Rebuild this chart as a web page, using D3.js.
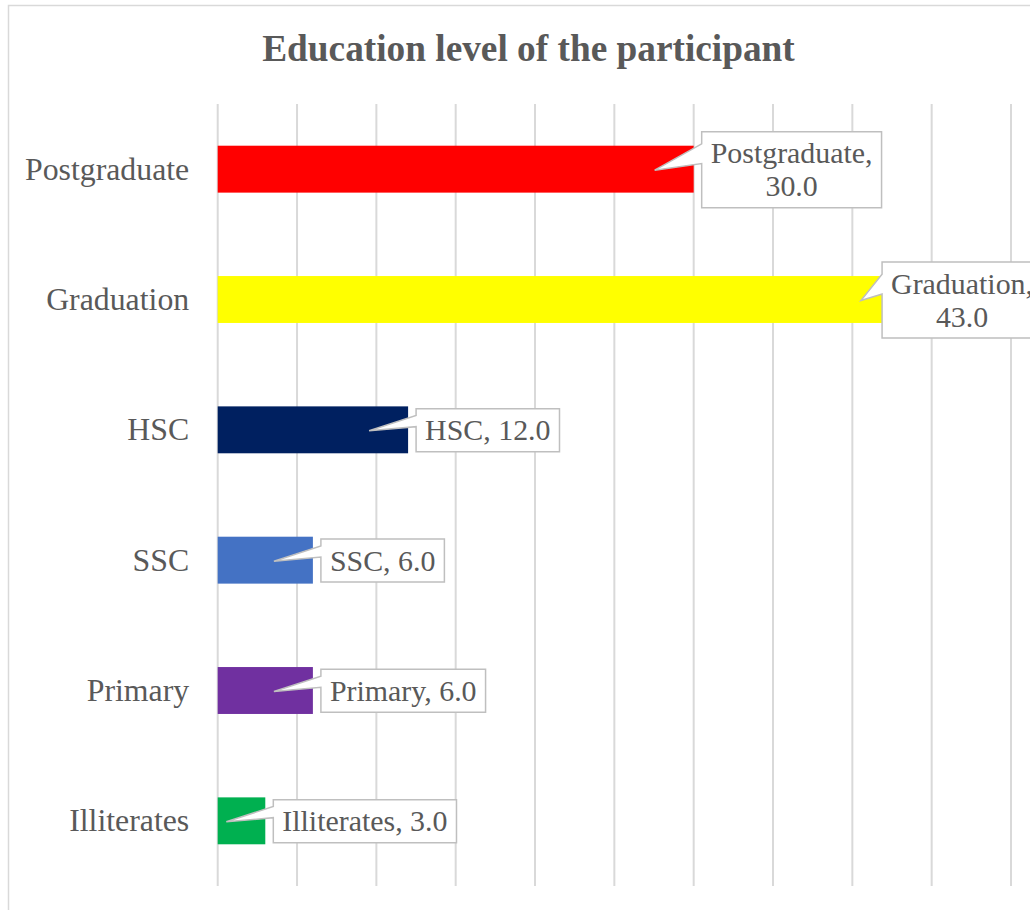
<!DOCTYPE html>
<html>
<head>
<meta charset="utf-8">
<script src="https://cdn.jsdelivr.net/npm/d3@7"></script>
<style>
  html, body { margin: 0; padding: 0; background: #fff; overflow: hidden; }
  svg { display: block; }
</style>
</head>
<body>
<svg id="chart" width="1030" height="910"></svg>
<script>
// Education level counts, top to bottom
const categories = ["Postgraduate", "Graduation", "HSC", "SSC", "Primary", "Illiterates"];
const values = [30.0, 43.0, 12.0, 6.0, 6.0, 3.0];
const barColors = ["#FF0000", "#FFFF00", "#002060", "#4472C4", "#7030A0", "#00B050"];
// label text split into lines for the callouts
const labelLines = [
  ["Postgraduate,", "30.0"],
  ["Graduation,", "43.0"],
  ["HSC, 12.0"],
  ["SSC, 6.0"],
  ["Primary, 6.0"],
  ["Illiterates, 3.0"]
];
const xTicks = [0, 5, 10, 15, 20, 25, 30, 35, 40, 45, 50];
const title = "Education level of the participant";

const W = 1030, H = 910;
const svg = d3.select("#chart");
const serif = "'Liberation Serif', 'Times New Roman', Times, serif";
const textColor = "#595959";

// chart frame
svg.append("rect")
  .attr("x", 8.5).attr("y", 5.5)
  .attr("width", 1040).attr("height", 920)
  .attr("fill", "#fff")
  .attr("stroke", "#d9d9d9").attr("stroke-width", 1.5);

// title
svg.append("text")
  .attr("x", 528.5).attr("y", 60.5)
  .attr("text-anchor", "middle")
  .attr("font-family", serif)
  .attr("font-weight", "bold")
  .attr("font-size", 37.3)
  .attr("fill", textColor)
  .text(title);

const plot = { left: 217.7, right: 1011, top: 104, bottom: 886 };

const x = d3.scaleLinear().domain([0, 50]).range([plot.left, plot.right]);
const y = d3.scaleBand().domain(categories)
  .range([plot.top, plot.bottom])
  .paddingInner(0.64).paddingOuter(0.32);

// vertical gridlines
svg.append("g").selectAll("line")
  .data(xTicks)
  .join("line")
  .attr("x1", d => x(d)).attr("x2", d => x(d))
  .attr("y1", plot.top).attr("y2", plot.bottom)
  .attr("stroke", "#d9d9d9").attr("stroke-width", 2);

// category axis labels
const yAxis = d3.axisLeft(y).tickSize(0).tickPadding(28.5);
const yg = svg.append("g").attr("transform", `translate(${plot.left},0)`).call(yAxis);
yg.select(".domain").remove();
yg.selectAll("text")
  .attr("font-family", serif)
  .attr("font-size", 31.8)
  .attr("fill", textColor)
  .attr("dy", "0.33em");

// bars
svg.append("g").selectAll("rect")
  .data(categories)
  .join("rect")
  .attr("x", x(0))
  .attr("y", d => y(d))
  .attr("width", (d, i) => x(values[i]) - x(0))
  .attr("height", y.bandwidth())
  .attr("fill", (d, i) => barColors[i]);

// callout data labels
const labelSize = 29.9;
const lineH = 33;
const padX = 9, padY = 5;
const labels = svg.append("g");

categories.forEach((c, i) => {
  const g = labels.append("g");
  const end = x(values[i]);
  const cy = y(c) + y.bandwidth() / 2;
  const lines = labelLines[i];

  const t = g.append("text")
    .attr("font-family", serif)
    .attr("font-size", labelSize)
    .attr("fill", textColor)
    .attr("text-anchor", "middle");
  lines.forEach((s, k) => t.append("tspan").attr("x", 0).attr("dy", k === 0 ? 0 : lineH).text(s));

  const tw = d3.max(t.selectAll("tspan").nodes(), n => n.getComputedTextLength());
  const bw = tw + 2 * padX;
  const bh = lines.length * lineH + 2 * padY;
  let bx = end + 8;
  if (bx + bw > W) bx = W + 12 - bw;
  const by = cy - bh / 2 + (lines.length > 1 ? 0.5 : 0.3);

  const tipX = end - 39, tipY = cy + 1;
  const b1 = by + bh * 0.16, b2 = by + bh * 0.42;
  const path = d3.path();
  path.moveTo(bx, by);
  path.lineTo(bx + bw, by);
  path.lineTo(bx + bw, by + bh);
  path.lineTo(bx, by + bh);
  path.lineTo(bx, b2);
  path.lineTo(tipX, tipY);
  path.lineTo(bx, b1);
  path.closePath();

  g.insert("path", "text")
    .attr("d", path.toString())
    .attr("fill", "#fff")
    .attr("stroke", "#bfbfbf")
    .attr("stroke-width", 1.5)
    .attr("stroke-linejoin", "miter");

  const firstBase = by + padY + lineH / 2 + labelSize * 0.34;
  t.attr("transform", `translate(${bx + bw / 2},${firstBase})`);
});
</script>
</body>
</html>
